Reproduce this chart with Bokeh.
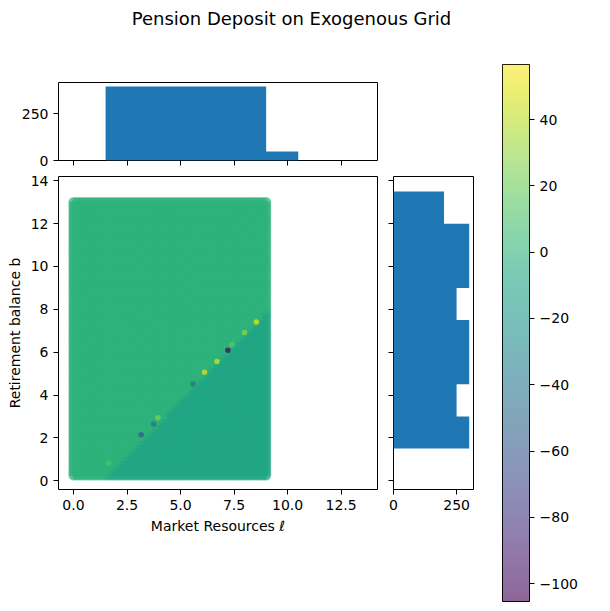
import numpy as np
from bokeh.plotting import figure
from bokeh.layouts import row, column
from bokeh.models import ColumnDataSource, LinearColorMapper, Label, Range1d
from bokeh.transform import linear_cmap
from bokeh.palettes import Viridis256
from bokeh.embed import file_html
from bokeh.resources import INLINE

# exogenous grid (bounds and number of nodes)
ell_min, ell_max, n_ell = 0.0, 9.0, 61
b_min, b_max, n_b = 0.25, 13.0, 86

# pension deposits: two flat regions split by the kink line
d_above = 0.0
d_below = -8.0
kink_ell = [1.45, 9.0]
kink_b = [0.1, 7.9]

# spikes sitting on the kink
spike_ell = [1.64, 3.16, 3.74, 3.94, 5.58, 6.12, 6.70, 7.21, 7.40, 7.99, 8.54]
spike_b = [0.82, 2.14, 2.65, 2.94, 4.51, 5.06, 5.57, 6.09, 6.36, 6.92, 7.41]
spike_d = [10, -60, -45, 25, -45, 48, 45, -100, 15, 30, 50]

# colour scale limits
d_low, d_high = -105.4, 56.6

# marginal histograms
ell_edges = [1.5, 3.0, 4.5, 6.0, 7.5, 9.0, 10.5]
ell_counts = [395, 395, 395, 395, 395, 48]
b_edges = [1.5, 3.0, 4.5, 6.0, 7.5, 9.0, 10.5, 12.0, 13.5]
b_counts = [300, 250, 300, 300, 250, 300, 300, 200]

# ticks
x_ticks = [0, 2.5, 5, 7.5, 10, 12.5]
x_tick_labels = ["0.0", "2.5", "5.0", "7.5", "10.0", "12.5"]
y_ticks = [0, 2, 4, 6, 8, 10, 12, 14]
y_tick_labels = ["0", "2", "4", "6", "8", "10", "12", "14"]
count_ticks = [0, 250]
count_tick_labels = ["0", "250"]
cbar_ticks = [-100, -80, -60, -40, -20, 0, 20, 40]
cbar_tick_labels = ["\u2212100", "\u221280", "\u221260", "\u221240", "\u221220", "0", "20", "40"]

FONT = "DejaVu Sans"
BLUE = "#1f77b4"

# build grid values
ell_vals = np.linspace(ell_min, ell_max, n_ell)
b_vals = np.linspace(b_min, b_max, n_b)
L, B = np.meshgrid(ell_vals, b_vals)
L = L.ravel()
B = B.ravel()
D = np.where(B > np.interp(L, kink_ell, kink_b), d_above, d_below)

source = ColumnDataSource(data=dict(ell=L, b=B, d=D))
spikes = ColumnDataSource(data=dict(ell=spike_ell, b=spike_b, d=spike_d))


def step_outline(edges, counts):
    # histogram outline as one polygon (no seams between bins)
    pos = np.repeat(edges, 2)
    hgt = np.concatenate([[0], np.repeat(counts, 2), [0]])
    return pos, hgt


def style(p):
    p.grid.visible = False
    p.outline_line_color = "black"
    p.outline_line_width = 1
    for ax in p.axis:
        ax.axis_line_color = None
        ax.major_tick_in = 0
        ax.major_tick_out = 5
        ax.major_tick_line_color = "black"
        ax.minor_tick_line_color = None
        ax.major_label_text_font = FONT
        ax.major_label_text_font_size = "14px"
        ax.major_label_text_color = "black"
        ax.axis_label_text_font = FONT
        ax.axis_label_text_font_size = "14px"
        ax.axis_label_text_font_style = "normal"
        ax.axis_label_text_color = "black"


x_range = Range1d(-0.7, 14.2)
y_range = Range1d(-0.41, 14.2)

# title strip
title_fig = figure(width=602, height=58, x_range=(0, 602), y_range=(0, 58),
                   toolbar_location=None, output_backend="svg",
                   x_axis_location=None, y_axis_location=None, min_border=0)
title_fig.outline_line_color = None
title_fig.grid.visible = False
title_fig.add_layout(Label(x=291, y=40, text="Pension Deposit on Exogenous Grid",
                           text_align="center", text_baseline="middle",
                           text_font=FONT, text_font_size="18px", text_color="black"))

# top histogram
top = figure(width=480, height=110, x_range=x_range, y_range=(0, 416),
             toolbar_location=None, output_backend="svg",
             min_border_left=58, min_border_right=103, min_border_top=24, min_border_bottom=8)
hx, hy = step_outline(ell_edges, ell_counts)
top.patch(hx, hy, fill_color=BLUE, line_color=None)
style(top)
top.xaxis.ticker = x_ticks
top.xaxis.major_label_overrides = {t: "" for t in x_ticks}
top.xaxis.major_label_standoff = 0
top.yaxis.ticker = count_ticks
top.yaxis.major_label_overrides = dict(zip(count_ticks, count_tick_labels))

# main scatter
main = figure(width=385, height=371, x_range=x_range, y_range=y_range,
              toolbar_location=None, output_backend="svg",
              min_border_left=58, min_border_right=8, min_border_top=8, min_border_bottom=50,
              x_axis_label="Market Resources \u2113", y_axis_label="Retirement balance b")
cmap = linear_cmap("d", Viridis256, d_low, d_high)
main.scatter(x="ell", y="b", source=source, size=8.3, fill_color=cmap, line_color=cmap,
             line_width=2, alpha=0.6)
main.scatter(x="ell", y="b", source=spikes, size=5.5, fill_color=cmap, line_color=None,
             alpha=0.75)
style(main)
main.xaxis.ticker = x_ticks
main.xaxis.major_label_overrides = dict(zip(x_ticks, x_tick_labels))
main.yaxis.ticker = y_ticks
main.yaxis.major_label_overrides = dict(zip(y_ticks, y_tick_labels))

# right histogram
side = figure(width=95, height=371, x_range=(0, 317), y_range=y_range,
              toolbar_location=None, output_backend="svg",
              min_border_left=8, min_border_right=7, min_border_top=8, min_border_bottom=50)
sy, sx = step_outline(b_edges, b_counts)
side.patch(sx, sy, fill_color=BLUE, line_color=None)
style(side)
side.xaxis.ticker = count_ticks
side.xaxis.major_label_overrides = dict(zip(count_ticks, count_tick_labels))
side.yaxis.ticker = y_ticks
side.yaxis.major_label_overrides = {t: "" for t in y_ticks}
side.yaxis.major_label_standoff = 0

# colorbar
cbar = figure(width=122, height=544, x_range=(0, 1), y_range=(d_low, d_high),
              toolbar_location=None, output_backend="svg",
              x_axis_location=None, y_axis_location="right",
              min_border_left=22, min_border_right=73, min_border_top=6, min_border_bottom=1)
mapper = LinearColorMapper(palette=Viridis256, low=d_low, high=d_high)
ramp = np.linspace(d_low, d_high, 256).reshape(256, 1)
cbar.image(image=[ramp], x=0, y=d_low, dw=1, dh=d_high - d_low,
           color_mapper=mapper, global_alpha=0.6)
style(cbar)
cbar.yaxis.ticker = cbar_ticks
cbar.yaxis.major_label_overrides = dict(zip(cbar_ticks, cbar_tick_labels))
cbar.add_layout(Label(x=88, y=(d_low + d_high) / 2, x_units="screen", y_units="data",
                      text="Pension Deposits d", angle=90, angle_units="deg",
                      text_align="center", text_baseline="middle",
                      text_font=FONT, text_font_size="14px", text_color="black"))

p = column(title_fig, row(column(top, row(main, side)), cbar))

open("out.html", "w").write(file_html(p, INLINE))
